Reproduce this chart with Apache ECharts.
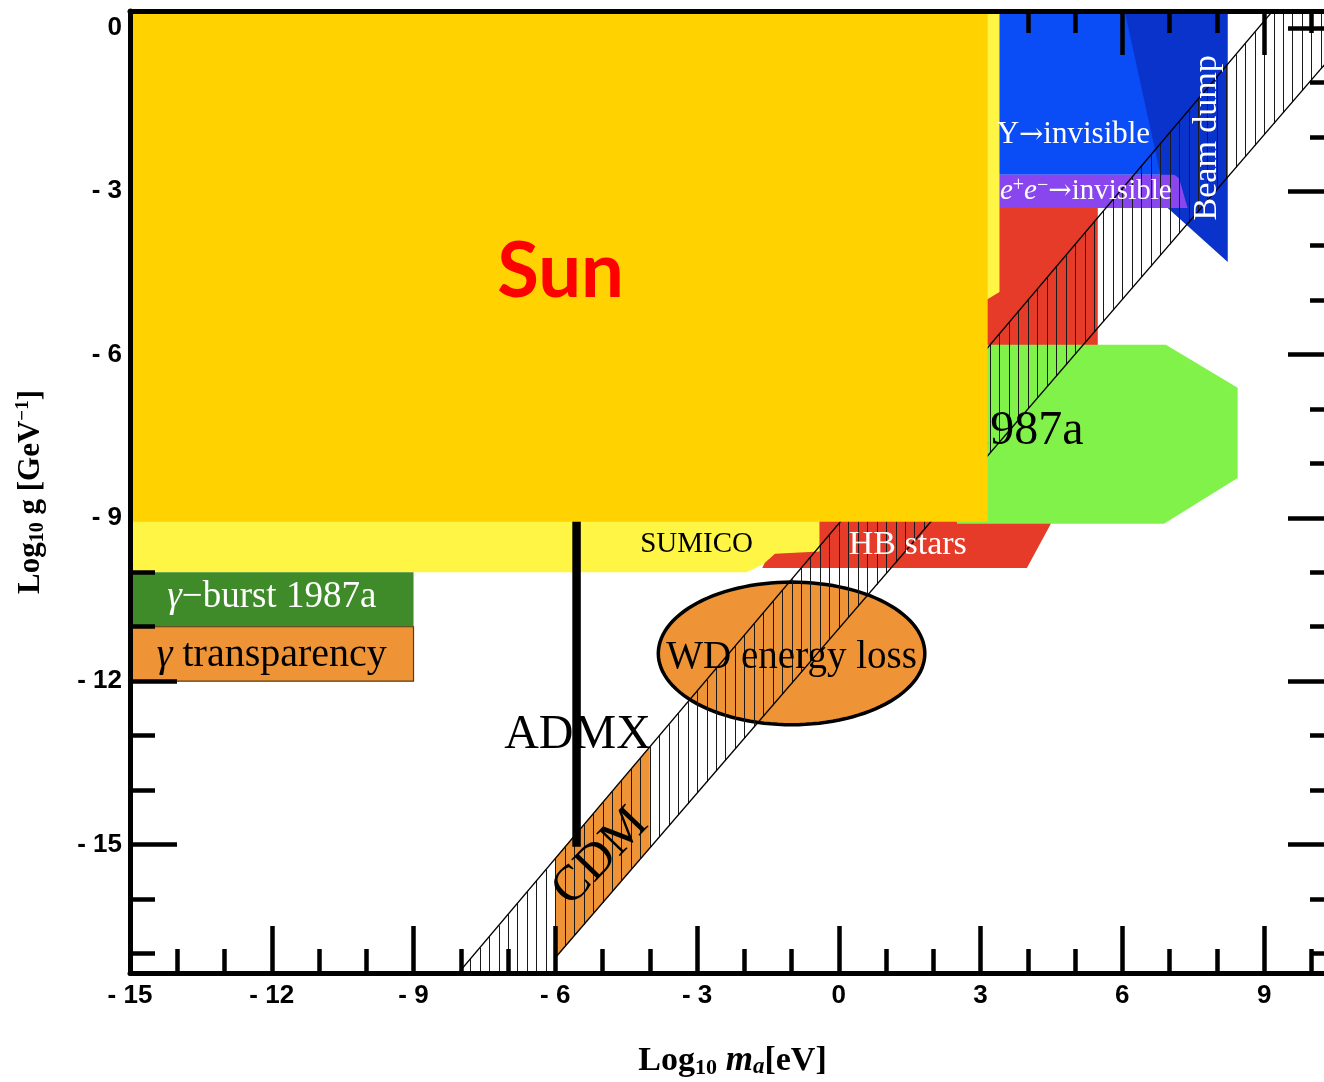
<!DOCTYPE html>
<html>
<head>
<meta charset="utf-8">
<script src="https://cdn.jsdelivr.net/npm/echarts@6/dist/echarts.min.js"></script>
<style>
  html, body { margin: 0; padding: 0; background: #fff; }
  #chart { width: 1324px; height: 1082px; }
</style>
</head>
<body>
<div id="chart"></div>
<script>
// Axion parameter space: log10 of the axion mass (eV) against log10 of the photon coupling (GeV^-1)
const massRange = [-15, 10.5];
const couplingRange = [-17.36, 0.31];
const massMajorTicks = [-15, -12, -9, -6, -3, 0, 3, 6, 9];
const massMinorTicks = [-14, -13, -11, -10, -8, -7, -5, -4, -2, -1, 1, 2, 4, 5, 7, 8, 10];
const couplingMajorTicks = [-15, -12, -9, -6, -3, 0];
const couplingMinorTicks = [-17, -16, -14, -13, -11, -10, -8, -7, -5, -4, -2, -1];

// excluded regions, vertices as [log m, log g]
const sunRegion = [[-15, 0.31], [3.15, 0.31], [3.15, -9.07], [-15, -9.07]];
const helioscopeRegion = [[-15, 0.31], [3.4, 0.31], [3.4, -4.85], [3.12, -5.0], [-0.41, -9.05], [-0.41, -9.62],
  [-1.35, -9.66], [-1.6, -9.85], [-1.95, -10.0], [-15, -10.0]];
const hbStarsRegion = [[-1.62, -9.92], [3.98, -9.92], [4.51, -9.07], [5.48, -7.4], [5.48, -3.31], [-1.45, -3.31], [-1.45, -9.6]];
const upsilonRegion = [[3.3, 0.31], [7.0, 0.31], [7.0, -2.70], [3.3, -2.70]];
const eeRegion = [[3.3, -2.70], [7.1, -2.70], [7.2, -2.76], [7.38, -3.31], [3.3, -3.31]];
const beamDumpRegion = [[6.05, 0.31], [8.23, 0.31], [8.23, -4.30], [6.96, -3.31]];
const sn1987aRegion = [[2.5, -5.82], [6.92, -5.82], [8.44, -6.61], [8.44, -8.27], [6.88, -9.11], [2.5, -9.11]];
const gammaBurstRegion = [[-15, -10.0], [-9.0, -10.0], [-9.0, -11.0], [-15, -11.0]];
const transparencyRegion = [[-15, -11.0], [-9.0, -11.0], [-9.0, -12.0], [-15, -12.0]];
const cdmRegion = [[-6.0, -17.08], [-6.0, -15.24], [-4.0, -13.21], [-4.0, -15.07]];

// white dwarf cooling bound: centre and half-axes
const wdCenter = [-1.0, -11.49];
const wdHalfAxes = [2.82, 1.31];

// ADMX cavity search
const admxLine = [[-5.55, -9.0], [-5.55, -15.04]];

// axion model band edges
const bandUpperEdge = [[-8.05, -17.36], [9.18, 0.31]];
const bandLowerEdge = [[-6.0, -17.08], [10.5, -0.45]];

// region labels and where they sit
const labelTexts = [
  'Υ{r|→}invisible',
  '{e|e}{sup|+}{e|e}{sup|−}{r|→}invisible',
  'Beam dump',
  'SN 1987a',
  'SUMICO',
  'HB stars',
  '{g|γ}−burst 1987a',
  '{g|γ} transparency',
  'WD energy loss',
  'ADMX',
  'CDM'
];
const labelAnchors = [
  [3.34, -1.97], [3.41, -3.01], [7.79, -2.02], [5.18, -7.42], [-3.01, -9.48], [1.46, -9.50],
  [-12.0, -10.45], [-12.0, -11.52], [-1.0, -11.57], [-5.53, -13.0], [-5.04, -15.23]
];
const sunLabel = { text: 'Sun', at: [-5.89, -4.50] };

// ---------------------------------------------------------------- drawing
const serif = "'Liberation Serif', 'DejaVu Serif', serif";
const labelLooks = [
  { fill: '#fff', size: 31, align: 'left' },
  { fill: '#fff', size: 29, align: 'left' },
  { fill: '#fff', size: 34, rotate: 90 },
  { fill: '#000', size: 48, align: 'right' },
  { fill: '#000', size: 29 },
  { fill: '#fff', size: 34 },
  { fill: '#fff', size: 37 },
  { fill: '#000', size: 40 },
  { fill: '#000', size: 39 },
  { fill: '#000', size: 48 },
  { fill: '#000', size: 50, rotate: 46 }
];

function regionSeries(name, verts, fill, z, stroke) {
  return {
    name: name,
    type: 'custom',
    coordinateSystem: 'cartesian2d',
    xAxisIndex: 0, yAxisIndex: 0,
    z: z, silent: true, clip: true,
    data: verts,
    renderItem: function (params, api) {
      if (params.dataIndex !== 0) return;
      const pts = verts.map(function (v) { return api.coord(v); });
      return {
        type: 'polygon',
        shape: { points: pts },
        style: { fill: fill, stroke: stroke || null, lineWidth: stroke ? 1.2 : 0 }
      };
    }
  };
}

function edgeAt(edge, x) {
  const x0 = edge[0][0], y0 = edge[0][1], x1 = edge[1][0], y1 = edge[1][1];
  return y0 + (y1 - y0) * (x - x0) / (x1 - x0);
}

const hatchStart = -8.0;
const hatchStep = 0.2;

const bandSeries = {
  name: 'axion band',
  type: 'custom', coordinateSystem: 'cartesian2d',
  z: 10, silent: true, clip: true,
  data: bandUpperEdge,
  renderItem: function (params, api) {
    if (params.dataIndex !== 0) return;
    const children = [];
    for (let k = 0; ; k++) {
      const x = hatchStart + k * hatchStep;
      if (x > massRange[1]) break;
      const top = Math.min(edgeAt(bandUpperEdge, x), couplingRange[1]);
      const bottom = x >= bandLowerEdge[0][0] ? edgeAt(bandLowerEdge, x) : couplingRange[0];
      if (top <= bottom) continue;
      const p0 = api.coord([x, top]);
      const p1 = api.coord([x, bottom]);
      const px = Math.round(p0[0]) + 0.5;
      children.push({
        type: 'line',
        shape: { x1: px, y1: p0[1], x2: px, y2: p1[1] },
        style: { stroke: '#1a1a1a', lineWidth: 1 }
      });
    }
    [bandUpperEdge, bandLowerEdge].forEach(function (e) {
      const a = api.coord(e[0]), b = api.coord(e[1]);
      children.push({
        type: 'line',
        shape: { x1: a[0], y1: a[1], x2: b[0], y2: b[1] },
        style: { stroke: '#000', lineWidth: 1.3 }
      });
    });
    return { type: 'group', children: children };
  }
};

const wdSeries = {
  name: 'WD energy loss',
  type: 'custom', coordinateSystem: 'cartesian2d',
  z: 8, silent: true, clip: true,
  data: [wdCenter],
  renderItem: function (params, api) {
    const c = api.coord(wdCenter);
    const rx = api.coord([wdCenter[0] + wdHalfAxes[0], wdCenter[1]])[0] - c[0];
    const ry = c[1] - api.coord([wdCenter[0], wdCenter[1] + wdHalfAxes[1]])[1];
    const pts = [];
    for (let i = 0; i < 120; i++) {
      const t = i / 120 * Math.PI * 2;
      pts.push([c[0] + rx * Math.cos(t), c[1] + ry * Math.sin(t)]);
    }
    return {
      type: 'polygon',
      shape: { points: pts },
      style: { fill: '#EE9436', stroke: '#000', lineWidth: 3.5 }
    };
  }
};

function richFor(size, fill) {
  return {
    e: { fontFamily: serif, fontStyle: 'italic', fontSize: size, lineHeight: size + 2, fill: fill },
    g: { fontFamily: serif, fontStyle: 'italic', fontSize: size, lineHeight: size + 2, fill: fill },
    r: { fontFamily: "'DejaVu Serif', serif", fontSize: Math.round(size * 0.95), lineHeight: size + 2, fill: fill },
    sup: { fontFamily: serif, fontSize: Math.round(size * 0.7), lineHeight: 12, verticalAlign: 'top', fill: fill }
  };
}

const labelSeries = {
  name: 'labels',
  type: 'custom', coordinateSystem: 'cartesian2d',
  z: 12, silent: true, clip: true,
  data: labelAnchors,
  renderItem: function (params, api) {
    const i = params.dataIndex;
    const look = labelLooks[i];
    const p = api.coord(labelAnchors[i]);
    return {
      type: 'text',
      x: p[0], y: p[1],
      rotation: (look.rotate || 0) * Math.PI / 180,
      style: {
        text: labelTexts[i],
        fill: look.fill,
        fontFamily: serif,
        fontSize: look.size,
        lineHeight: look.size + 2,
        align: look.align || 'center',
        verticalAlign: 'middle',
        rich: richFor(look.size, look.fill)
      }
    };
  }
};

const sunTextSeries = {
  name: 'Sun label',
  type: 'custom', coordinateSystem: 'cartesian2d',
  z: 16, silent: true, clip: true,
  data: [sunLabel.at],
  renderItem: function (params, api) {
    const p = api.coord(sunLabel.at);
    return {
      type: 'text', x: p[0], y: p[1],
      style: {
        text: sunLabel.text, fill: '#FF0000',
        fontFamily: "Lato, 'DejaVu Sans', sans-serif", fontWeight: 'bold', fontSize: 76,
        align: 'center', verticalAlign: 'middle'
      }
    };
  }
};

const admxSeries = {
  name: 'ADMX',
  type: 'line',
  data: admxLine,
  z: 11, silent: true,
  symbol: 'none',
  lineStyle: { color: '#000', width: 8.5, cap: 'butt' }
};

// ---------------------------------------------------------------- axes
const tickLabelStyle = {
  color: '#000',
  fontFamily: "'Liberation Sans', Arial, sans-serif",
  fontWeight: 'bold',
  fontSize: 26
};
function tickText(v) { return v < 0 ? '- ' + (-v) : String(v); }
const frameLine = { show: true, onZero: false, lineStyle: { color: '#000', width: 5 } };
const noLine = { show: false, onZero: false };

function valueAxis(range, position, opts) {
  const axis = {
    type: 'value', position: position,
    min: range[0], max: range[1],
    splitLine: { show: false },
    axisLine: opts.line ? frameLine : noLine,
    axisTick: opts.ticks ? {
      show: true, inside: true, length: opts.tickLength,
      customValues: opts.ticks,
      lineStyle: { color: '#000', width: 4.5 }
    } : { show: false },
    axisLabel: opts.labels ? Object.assign({
      show: true, customValues: opts.labels, formatter: tickText, margin: opts.margin
    }, tickLabelStyle) : { show: false },
    z: opts.z
  };
  return Object.assign(axis, opts.extra || {});
}

const serifBold = { fontFamily: serif, fontWeight: 'bold', color: '#000' };

const xAxes = [
  valueAxis(massRange, 'bottom', {
    line: true, ticks: massMajorTicks, tickLength: 47, labels: massMajorTicks, margin: 10, z: 13,
    extra: {
      name: '{b|Log}{s|10}{m| m}{a|a}{b|[eV]}',
      nameLocation: 'middle', nameGap: 70,
      nameTextStyle: {
        rich: {
          b: Object.assign({ fontSize: 34, lineHeight: 36 }, serifBold),
          s: Object.assign({ fontSize: 22, lineHeight: 8, verticalAlign: 'bottom' }, serifBold),
          m: Object.assign({ fontSize: 35, lineHeight: 36, fontStyle: 'italic' }, serifBold),
          a: Object.assign({ fontSize: 23, lineHeight: 8, verticalAlign: 'bottom', fontStyle: 'italic' }, serifBold)
        }
      }
    }
  }),
  valueAxis(massRange, 'bottom', { ticks: massMinorTicks, tickLength: 24, z: 13 }),
  valueAxis(massRange, 'top', { ticks: massMajorTicks, tickLength: 44, z: 13 }),
  valueAxis(massRange, 'top', { ticks: massMinorTicks, tickLength: 22, z: 13 }),
  valueAxis(massRange, 'top', { line: true, z: 15 })
];

const yAxes = [
  valueAxis(couplingRange, 'left', {
    ticks: couplingMajorTicks, tickLength: 47, labels: couplingMajorTicks, margin: 8, z: 13,
    extra: {
      name: '{b|Log}{s|10}{b| g [GeV}{p|−1}{b|]}',
      nameLocation: 'middle', nameGap: 82, nameRotate: 90,
      nameTextStyle: {
        rich: {
          b: Object.assign({ fontSize: 31, lineHeight: 34 }, serifBold),
          s: Object.assign({ fontSize: 20, lineHeight: 8, verticalAlign: 'bottom' }, serifBold),
          p: Object.assign({ fontSize: 19, lineHeight: 8, verticalAlign: 'top' }, serifBold)
        }
      }
    }
  }),
  valueAxis(couplingRange, 'left', { ticks: couplingMinorTicks, tickLength: 25, z: 13 }),
  valueAxis(couplingRange, 'right', { line: true, ticks: couplingMajorTicks, tickLength: 47, z: 13 }),
  valueAxis(couplingRange, 'right', { ticks: couplingMinorTicks, tickLength: 25, z: 13 }),
  valueAxis(couplingRange, 'left', { line: true, z: 15 })
];

const option = {
  animation: false,
  backgroundColor: '#fff',
  grid: { left: 130, right: -11, top: 11, bottom: 109, containLabel: false, outerBoundsMode: 'none' },
  xAxis: xAxes,
  yAxis: yAxes,
  series: [
    regionSeries('HB stars', hbStarsRegion, '#E53B28', 1),
    regionSeries('Upsilon decays', upsilonRegion, '#0A4CF6', 2),
    regionSeries('Beam dump', beamDumpRegion, '#0A33CB', 3),
    regionSeries('e+e- to invisible', eeRegion, '#8A46EE', 4),
    regionSeries('SN 1987a', sn1987aRegion, '#80F24A', 5),
    regionSeries('helioscopes', helioscopeRegion, '#FFF545', 6),
    regionSeries('gamma burst 1987a', gammaBurstRegion, '#3F8B2A', 7),
    regionSeries('gamma transparency', transparencyRegion, '#EE9436', 7, '#5a3a12'),
    wdSeries,
    regionSeries('CDM', cdmRegion, '#EE9436', 9),
    bandSeries,
    admxSeries,
    labelSeries,
    regionSeries('Sun', sunRegion, '#FFD200', 14),
    sunTextSeries
  ]
};

const chart = echarts.init(document.getElementById('chart'), null, { renderer: 'canvas' });
chart.setOption(option);
</script>
</body>
</html>
